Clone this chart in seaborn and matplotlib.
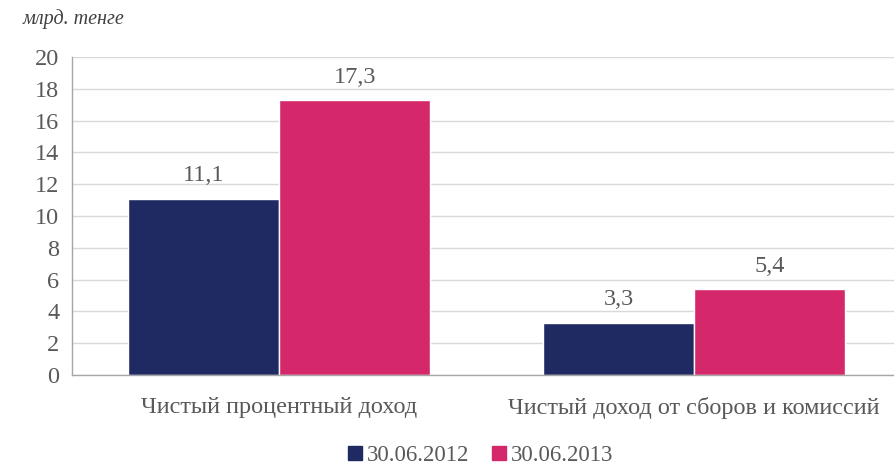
import matplotlib
matplotlib.use("Agg")
import matplotlib.pyplot as plt
import seaborn as sns
import pandas as pd

categories = ["Чистый процентный доход", "Чистый доход от сборов и комиссий"]
series_names = ["30.06.2012", "30.06.2013"]
values_2012 = [11.1, 3.3]
values_2013 = [17.3, 5.4]
y_ticks = [0, 2, 4, 6, 8, 10, 12, 14, 16, 18, 20]

colors = ["#1F2A63", "#D4286A"]
text_color = "#595959"

df = pd.DataFrame({
    "category": categories * 2,
    "period": [series_names[0]] * 2 + [series_names[1]] * 2,
    "value": values_2012 + values_2013,
})

sns.set_theme(style="white")
plt.rcParams["font.family"] = ["Liberation Serif", "DejaVu Serif"]

fig = plt.figure(figsize=(8.95, 4.65), dpi=100)
ax = fig.add_axes([0.0804, 0.1935, 0.927, 0.6837])

sns.barplot(data=df, x="category", y="value", hue="period", order=categories,
            hue_order=series_names, palette=colors, width=0.728, saturation=1,
            ax=ax, legend=False)

ax.set_ylim(0, 20)
ax.set_yticks(y_ticks)
ax.set_yticklabels([str(t) for t in y_ticks])
ax.yaxis.grid(True, color="#D9D9D9", linewidth=1)
ax.set_axisbelow(True)
ax.set_xlabel("")
ax.set_ylabel("")
ax.tick_params(axis="both", colors=text_color, labelsize=17.5, length=0)
ax.tick_params(axis="y", pad=9)
ax.tick_params(axis="x", pad=16)

for side in ["top", "right"]:
    ax.spines[side].set_visible(False)
for side in ["left", "bottom"]:
    ax.spines[side].set_color("#A6A6A6")
    ax.spines[side].set_linewidth(1)

for cont in ax.containers:
    labels = [f"{v:.1f}".replace(".", ",") for v in cont.datavalues]
    ax.bar_label(cont, labels=labels, padding=9, fontsize=17.5, color=text_color)

fig.text(0.025, 0.96, "млрд. тенге", fontsize=14.5, style="italic",
         color="#404040", va="center", ha="left")

handles = [plt.Rectangle((0, 0), 1, 1, color=c) for c in colors]
fig.legend(handles, series_names, loc="center", bbox_to_anchor=(0.537, 0.02),
           ncol=2, frameon=False, fontsize=16.5, handlelength=0.6,
           handleheight=0.6, handletextpad=0.2, columnspacing=1.0,
           labelcolor=text_color)

fig.savefig("out.png", dpi=100)
